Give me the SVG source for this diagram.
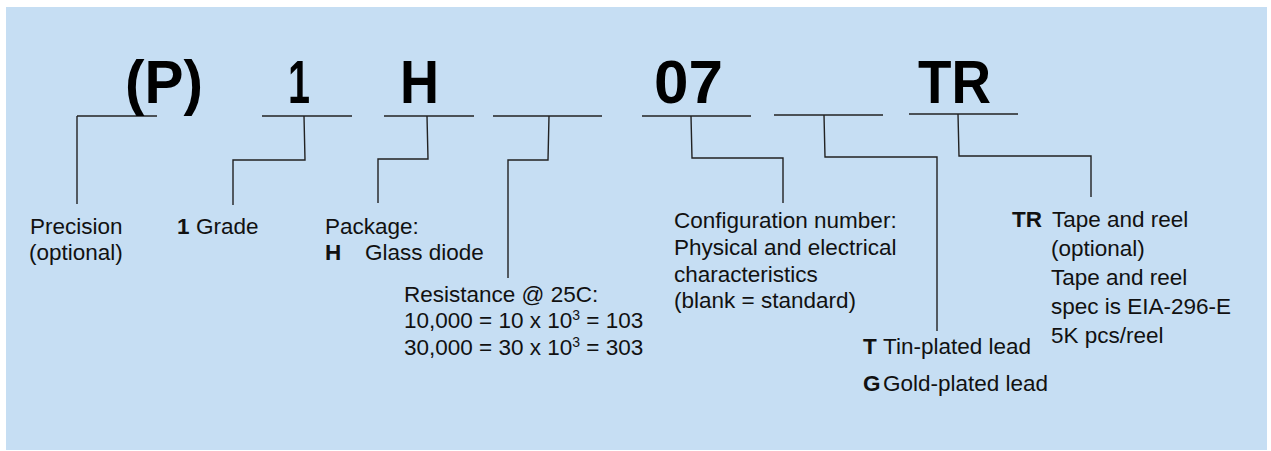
<svg xmlns="http://www.w3.org/2000/svg" width="1271" height="451" viewBox="0 0 1271 451">
<style>
.big{font-family:"Liberation Sans",Arial,sans-serif;font-weight:bold;font-size:62px;fill:#000}
.t{font-family:"Liberation Sans",Arial,sans-serif;font-size:22.5px;fill:#111}
.b{font-weight:bold}
.ln{fill:none;stroke:#222;stroke-width:1.4}
</style>
<rect x="0" y="0" width="1271" height="451" fill="#fff"/>
<rect x="6" y="7" width="1261" height="443" fill="#c6def3"/>
<g id="connectors">
<line class="ln" x1="77" y1="116" x2="157" y2="116"/>
<polyline class="ln" points="77,116 77,204"/>
<line class="ln" x1="262" y1="116" x2="352" y2="116"/>
<polyline class="ln" points="304,116 305,160 233,160 233,205"/>
<line class="ln" x1="384" y1="116" x2="474" y2="116"/>
<polyline class="ln" points="427,116 428,159 378,159 378,203"/>
<line class="ln" x1="493" y1="116" x2="602" y2="116"/>
<polyline class="ln" points="549,116 548,160 508,160 508,278"/>
<line class="ln" x1="642" y1="116" x2="751" y2="116"/>
<polyline class="ln" points="691,116 692,158 783,158 783,203"/>
<line class="ln" x1="774" y1="115" x2="883" y2="115"/>
<polyline class="ln" points="824,115 825,157 937,157 937,331"/>
<line class="ln" x1="909" y1="114" x2="1018" y2="114"/>
<polyline class="ln" points="958,114 959,156 1091,156 1091,197"/>
</g>
<g id="code">
<text class="big" x="125" y="103" textLength="78" lengthAdjust="spacingAndGlyphs">(P)</text>
<text class="big" x="288" y="103" textLength="22" lengthAdjust="spacingAndGlyphs">1</text>
<text class="big" x="400" y="103" textLength="39" lengthAdjust="spacingAndGlyphs">H</text>
<text class="big" x="654" y="103" textLength="69" lengthAdjust="spacingAndGlyphs">07</text>
<text class="big" x="918" y="103" textLength="73" lengthAdjust="spacingAndGlyphs">TR</text>
</g>
<g id="precision">
<text class="t" x="30" y="234">Precision</text>
<text class="t" x="29" y="260">(optional)</text>
</g>
<g id="grade">
<text class="t b" x="177" y="234">1</text>
<text class="t" x="196" y="234">Grade</text>
</g>
<g id="package">
<text class="t" x="325" y="234">Package:</text>
<text class="t b" x="325" y="260">H</text>
<text class="t" x="365" y="260">Glass diode</text>
</g>
<g id="resistance">
<text class="t" x="404" y="302">Resistance @ 25C:</text>
<text class="t" x="404" y="328">10,000 = 10 x 10<tspan dy="-8" font-size="14">3</tspan><tspan dy="8"> = 103</tspan></text>
<text class="t" x="404" y="355">30,000 = 30 x 10<tspan dy="-8" font-size="14">3</tspan><tspan dy="8"> = 303</tspan></text>
</g>
<g id="configuration">
<text class="t" x="674" y="228">Configuration number:</text>
<text class="t" x="674" y="255">Physical and electrical</text>
<text class="t" x="674" y="282">characteristics</text>
<text class="t" x="674" y="308">(blank = standard)</text>
</g>
<g id="lead">
<text class="t b" x="863" y="354">T</text>
<text class="t" x="883" y="354">Tin-plated lead</text>
<text class="t b" x="863" y="391">G</text>
<text class="t" x="883" y="391">Gold-plated lead</text>
</g>
<g id="tape">
<text class="t b" x="1012" y="227">TR</text>
<text class="t" x="1052" y="227">Tape and reel</text>
<text class="t" x="1051" y="256">(optional)</text>
<text class="t" x="1051" y="285">Tape and reel</text>
<text class="t" x="1051" y="314">spec is EIA-296-E</text>
<text class="t" x="1051" y="343">5K pcs/reel</text>
</g>
</svg>
